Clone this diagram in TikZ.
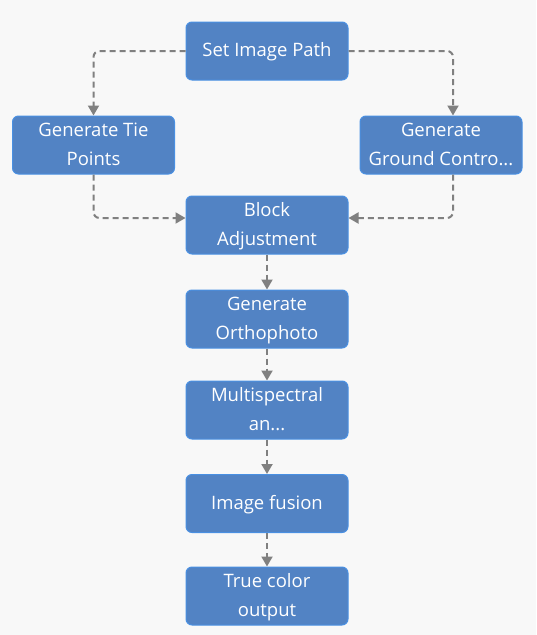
\documentclass[tikz,border=0pt]{standalone}
\usepackage{fontspec}
\setmainfont{Open Sans}
\usepackage{tikz}
\usetikzlibrary{arrows.meta}
\definecolor{boxblue}{HTML}{5283C4}
\definecolor{boxedge}{HTML}{4A90E2}
\definecolor{flowgray}{HTML}{808080}
\definecolor{pagebg}{HTML}{F8F8F8}
\tikzset{
    stepbox/.style={rectangle, rounded corners=6pt, fill=boxblue, draw=boxedge, line width=1pt,
        minimum width=162pt, minimum height=58pt, inner xsep=2pt, inner ysep=0pt, align=center,
        text=white, font=\fontsize{18.5}{29}\selectfont},
    flow/.style={draw=flowgray, line width=2pt, dash pattern=on 6pt off 4pt,
        -{Triangle[width=11pt,length=10pt]}, rounded corners=6pt}
}
\begin{document}
\begin{tikzpicture}[x=1pt, y=-1pt]
            \fill[pagebg] (0,0) rectangle (536,635);
            \useasboundingbox (0,0) rectangle (536,635);

            % top and the two branches
            \node[stepbox] (path)   at (267,51)  {\strut Set Image Path};
            \node[stepbox] (tie)    at (93.5,145) {\strut Generate Tie\\\strut Points};
            \node[stepbox] (ground) at (441,145) {\strut Generate\\\strut Ground Contro...};

            % main column
            \node[stepbox] (block)  at (267,225) {\strut Block\\\strut Adjustment};
            \node[stepbox] (ortho)  at (267,319) {\strut Generate\\\strut Orthophoto};
            \node[stepbox] (multi)  at (267,410) {\strut Multispectral\\\strut an...};
            \node[stepbox] (fusion) at (267,503.5) {\strut Image fusion};
            \node[stepbox] (output) at (267,596) {\strut True color\\\strut output};

            % branch connectors
            \draw[flow] (path.west) -| (tie.north);
            \draw[flow] (path.east) -| ([xshift=12pt]ground.north);
            \draw[flow] (tie.south) |- ([yshift=7pt]block.west);
            \draw[flow] ([xshift=12pt]ground.south) |- ([yshift=7pt]block.east);

            % straight down
            \draw[flow] (block) -- (ortho);
            \draw[flow] (ortho) -- (multi);
            \draw[flow] (multi) -- (fusion);
            \draw[flow] (fusion) -- (output);
        \end{tikzpicture}
\end{document}
